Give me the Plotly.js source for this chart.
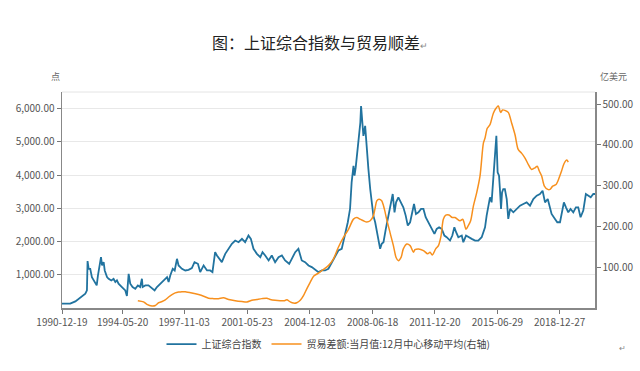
<!DOCTYPE html>
<html>
<head>
<meta charset="utf-8">
<script src="https://cdn.plot.ly/plotly-3.0.1.min.js"></script>
<style>html,body{margin:0;padding:0;background:#fff;}#chart{width:640px;height:371px;}</style>
</head>
<body>
<div id="chart"></div>
<script>
// 上证综合指数 (left axis, 点)
const shDates = ['1990-12-19','1991-06-06','1991-09-20','1991-12-28','1992-04-12','1992-05-15','1992-05-28','1992-06-20','1992-07-22','1992-08-25','1992-10-01','1992-11-03','1992-12-02','1992-12-28','1993-01-26','1993-02-28','1993-03-22','1993-04-24','1993-05-16','1993-07-02','1993-08-04','1993-09-28','1993-11-14','1993-12-20','1994-01-22','1994-02-24','1994-05-05','1994-07-13','1994-08-15','1994-09-20','1994-10-23','1994-12-10','1995-02-03','1995-03-28','1995-05-15','1995-06-20','1995-07-05','1995-08-28','1995-11-02','1996-01-12','1996-03-07','1996-04-24','1996-07-02','1996-09-09','1996-11-18','1996-12-20','1997-01-23','1997-03-15','1997-04-24','1997-06-10','1997-07-13','1997-09-20','1997-11-28','1998-02-03','1998-04-12','1998-06-06','1998-08-15','1998-10-01','1998-12-10','1999-02-18','1999-04-24','1999-06-10','1999-08-04','1999-09-10','1999-11-18','1999-12-20','2000-02-28','2000-05-08','2000-07-13','2000-09-20','2000-11-28','2001-02-06','2001-04-12','2001-06-20','2001-08-08','2001-10-01','2001-12-10','2002-02-18','2002-04-05','2002-05-30','2002-08-08','2002-10-12','2002-12-20','2003-02-28','2003-05-08','2003-07-13','2003-10-05','2003-11-28','2004-02-06','2004-04-12','2004-06-20','2004-08-28','2004-11-05','2005-01-12','2005-03-22','2005-05-30','2005-08-08','2005-10-12','2005-12-20','2006-02-28','2006-05-08','2006-07-13','2006-09-20','2006-11-28','2007-01-23','2007-03-10','2007-04-12','2007-05-20','2007-06-10','2007-07-05','2007-08-15','2007-09-13','2007-10-08','2007-10-23','2007-11-20','2007-12-10','2008-01-15','2008-02-18','2008-03-22','2008-04-28','2008-05-30','2008-07-02','2008-08-08','2008-09-10','2008-10-16','2008-11-18','2008-12-20','2009-01-26','2009-03-15','2009-05-08','2009-07-02','2009-08-04','2009-09-10','2009-10-12','2009-11-28','2010-01-23','2010-03-10','2010-04-28','2010-06-10','2010-07-28','2010-09-13','2010-10-16','2010-11-25','2011-01-15','2011-03-10','2011-04-28','2011-06-13','2011-08-08','2011-10-16','2011-12-10','2012-01-26','2012-03-15','2012-05-08','2012-07-02','2012-08-18','2012-10-26','2012-12-12','2013-01-23','2013-02-28','2013-04-15','2013-06-24','2013-07-26','2013-09-20','2013-11-05','2014-01-15','2014-03-25','2014-05-30','2014-08-08','2014-09-13','2014-10-16','2014-11-18','2014-12-24','2015-01-26','2015-02-28','2015-04-05','2015-05-08','2015-06-06','2015-07-02','2015-07-31','2015-08-18','2015-09-10','2015-10-01','2015-10-26','2015-11-28','2016-01-05','2016-02-06','2016-03-15','2016-05-20','2016-07-28','2016-10-05','2016-12-12','2017-02-18','2017-04-28','2017-07-05','2017-09-13','2017-11-18','2018-01-12','2018-03-03','2018-04-28','2018-06-13','2018-07-16','2018-09-24','2018-11-10','2019-01-05','2019-03-01','2019-03-26','2019-05-08','2019-06-24','2019-08-10','2019-10-05','2019-11-28','2020-01-15','2020-03-03','2020-04-28','2020-06-20','2020-08-08','2020-09-28','2020-11-20','2020-12-25'];
const shValues = [130,130,200,300,430,530,1410,1180,1180,930,830,730,680,980,1280,1530,1280,1380,1130,930,880,830,880,780,830,730,630,530,360,1030,730,630,580,680,630,880,630,680,680,580,530,630,730,830,930,780,980,1180,1130,1480,1280,1180,1130,1150,1200,1380,1330,1080,1280,1130,1130,1080,1680,1580,1430,1380,1630,1780,1930,2030,1980,2080,1980,2180,2080,1780,1630,1530,1680,1580,1430,1580,1380,1530,1580,1430,1330,1480,1680,1780,1430,1380,1280,1230,1150,1080,1130,1130,1180,1380,1580,1730,1780,2180,2580,2980,3780,4280,3980,4230,4880,5380,5580,6080,5380,5180,5480,4680,4180,3580,3080,2780,2580,2280,1980,1780,1930,1980,2380,2780,3080,3430,2880,3180,3330,3180,3030,2780,2480,2580,2880,3130,2830,2880,2980,2980,2730,2580,2380,2230,2380,2430,2380,2180,2130,2030,2180,2430,2280,2130,2180,1980,2180,2130,2080,2030,2030,2130,2280,2430,2780,3080,3330,3180,3880,4580,5180,4080,3980,3580,2980,3480,3580,3580,3280,2680,2980,2880,2980,3080,3130,3180,3080,3280,3380,3430,3530,3180,3280,2980,2830,2680,2580,2580,2930,3180,3030,2880,2980,2880,3030,3030,2730,2930,3430,3380,3330,3430,3430];

// 贸易差额:当月值:12月中心移动平均 (right axis, 亿美元)
const tbDates = ['1995-03-28','1995-07-24','1995-10-01','1996-01-12','1996-03-22','1996-05-30','1996-08-08','1996-10-12','1996-12-20','1997-02-28','1997-05-05','1997-07-13','1997-09-20','1997-11-28','1998-04-12','1998-08-28','1998-12-10','1999-03-22','1999-07-02','1999-10-12','2000-01-23','2000-05-08','2000-09-20','2001-02-06','2001-05-20','2001-08-28','2001-12-10','2002-03-22','2002-07-02','2002-09-10','2002-12-20','2003-04-01','2003-07-02','2003-08-18','2003-10-26','2004-01-01','2004-03-10','2004-05-20','2004-07-28','2004-10-01','2004-12-10','2005-02-18','2005-05-20','2005-08-08','2005-12-20','2006-04-01','2006-07-13','2006-10-26','2007-02-06','2007-05-20','2007-07-28','2007-10-01','2007-12-10','2008-02-18','2008-04-28','2008-07-02','2008-08-08','2008-09-10','2008-10-26','2008-12-20','2009-02-15','2009-04-01','2009-06-10','2009-08-18','2009-10-12','2009-11-28','2010-01-23','2010-03-10','2010-05-20','2010-07-28','2010-10-05','2010-11-05','2011-01-15','2011-04-28','2011-07-24','2011-09-10','2011-10-26','2012-01-05','2012-03-01','2012-04-24','2012-06-10','2012-07-31','2012-10-05','2012-12-12','2013-02-06','2013-05-20','2013-07-13','2013-08-10','2013-09-20','2013-11-05','2013-12-24','2014-02-18','2014-04-28','2014-07-05','2014-09-13','2014-10-16','2014-12-01','2015-01-26','2015-04-05','2015-05-30','2015-07-16','2015-09-01','2015-10-12','2015-11-28','2016-02-06','2016-04-15','2016-06-24','2016-08-28','2016-11-05','2017-01-15','2017-03-26','2017-06-01','2017-08-08','2017-09-24','2017-11-05','2017-12-24','2018-02-18','2018-04-28','2018-06-13','2018-08-08','2018-10-16','2018-12-20','2019-02-06','2019-03-28','2019-05-24','2019-06-24'];
const tbValues = [18,15,9,5,6,13,16,20,27,33,37,39,40,40,37,33,29,24,23,23,25,21,18,16,15,19,21,23,24,21,19,18,18,20,15,12,13,19,31,47,63,78,85,92,104,120,149,173,193,218,222,218,214,211,214,226,246,263,267,263,242,218,185,153,124,116,124,145,157,153,137,143,145,141,133,137,130,145,153,177,218,228,228,222,222,214,218,210,193,202,214,250,283,324,405,417,441,450,478,490,496,480,486,485,480,454,425,389,380,368,352,340,344,348,336,324,299,291,291,299,303,320,336,354,363,358];

const xTickVals = ['1990-12-19','1994-05-20','1997-11-03','2001-05-23','2004-12-03','2008-06-18','2011-12-20','2015-06-29','2018-12-27'];
const leftTicks = [1000,2000,3000,4000,5000,6000];
const rightTicks = [100,200,300,400,500];
const seriesNames = ['上证综合指数','贸易差额:当月值:12月中心移动平均(右轴)'];

const FONT = '"Noto Sans CJK SC", "Noto Sans", sans-serif';
const traces = [
  {x: shDates, y: shValues, name: seriesNames[0], type: 'scatter', mode: 'lines',
   line: {color: '#21739f', width: 1.8}, yaxis: 'y'},
  {x: tbDates, y: tbValues, name: seriesNames[1], type: 'scatter', mode: 'lines',
   line: {color: '#f7901e', width: 1.5, shape: 'spline', smoothing: 0.8}, yaxis: 'y2'}
];
const layout = {
  width: 640, height: 371,
  margin: {l: 62, r: 45, t: 92, b: 63},
  paper_bgcolor: '#fff', plot_bgcolor: '#fff',
  font: {family: FONT, size: 10, color: '#555'},
  title: {text: '图：上证综合指数与贸易顺差<span style="font-size:9px;color:#888">↵</span>',
          x: 0.5, xanchor: 'center', y: 1 - 43/371, yanchor: 'middle', yref: 'container',
          font: {family: FONT, size: 16, color: '#222'}},
  showlegend: true,
  legend: {orientation: 'h', x: 0.5, xanchor: 'center', y: -0.167, yanchor: 'middle',
           font: {family: FONT, size: 10, color: '#444'}, itemwidth: 30, tracegroupgap: 0},
  xaxis: {type: 'date', range: ['1990-12-19', '2020-12-25'], tickmode: 'array',
          tickvals: xTickVals, ticktext: xTickVals, ticks: 'outside', ticklen: 4, tickcolor: '#777',
          showline: true, linecolor: '#888', linewidth: 1.5, showgrid: false, zeroline: false,
          tickfont: {family: FONT, size: 10, color: '#555'}},
  yaxis: {range: [0, 6500], tickmode: 'array', tickvals: leftTicks, tickformat: ',.2f',
          ticks: 'outside', ticklen: 4, tickcolor: '#777', showline: true, linecolor: '#888',
          linewidth: 1.5, gridcolor: '#e8e8e8', zeroline: false,
          tickfont: {family: FONT, size: 10, color: '#555'}},
  yaxis2: {range: [0, 530], overlaying: 'y', side: 'right', tickmode: 'array', tickvals: rightTicks,
           tickformat: '.2f', ticks: 'outside', ticklen: 4, tickcolor: '#777', showline: true,
           linecolor: '#888', linewidth: 1.5, showgrid: false, zeroline: false,
           tickfont: {family: FONT, size: 10, color: '#555'}},
  shapes: [{type: 'line', xref: 'paper', yref: 'paper', x0: 0, x1: 1, y0: 1, y1: 1,
            line: {color: '#e4e4e4', width: 1}}],
  annotations: [
    {text: '点', xref: 'paper', yref: 'paper', x: -0.012, y: 1 + (92-76)/216, xanchor: 'center', yanchor: 'middle',
     showarrow: false, font: {family: FONT, size: 9, color: '#666'}},
    {text: '亿美元', xref: 'paper', yref: 'paper', x: 1.005, y: 1 + (92-76)/216, xanchor: 'left', yanchor: 'middle',
     showarrow: false, font: {family: FONT, size: 9, color: '#666'}},
    {text: '↵', xref: 'paper', yref: 'paper', x: 1 + (622-595)/533, y: (309-348)/216, xanchor: 'center', yanchor: 'middle',
     showarrow: false, font: {family: FONT, size: 8, color: '#888'}}
  ]
};
Plotly.newPlot('chart', traces, layout, {displayModeBar: false, staticPlot: true});
</script>
</body>
</html>
